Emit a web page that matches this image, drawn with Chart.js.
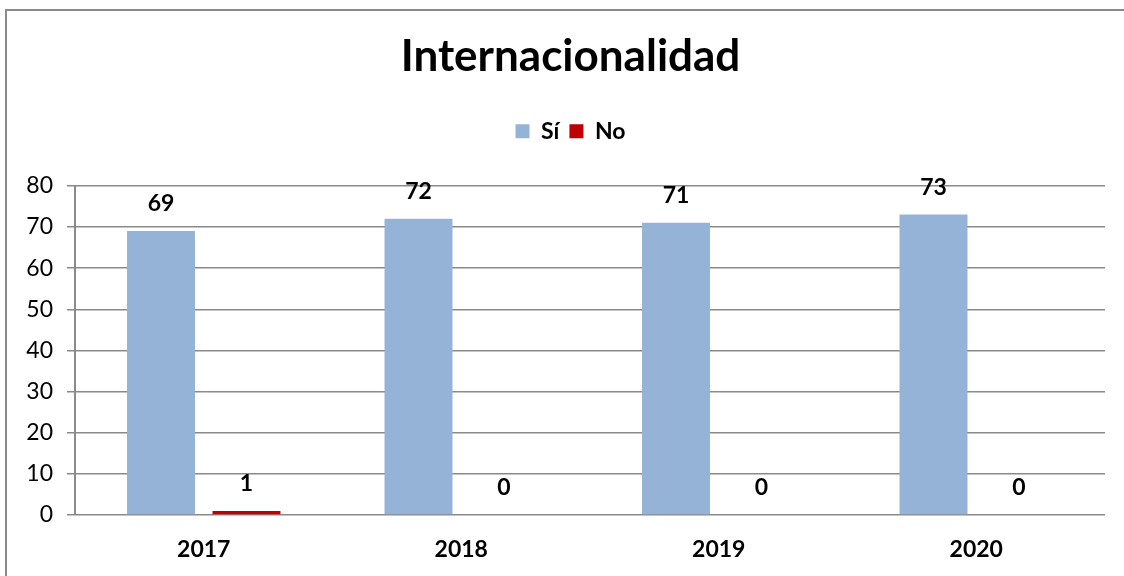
<!DOCTYPE html>
<html lang="es">
    <head>
        <meta charset="utf-8" />
        <script src="https://cdn.jsdelivr.net/npm/chart.js@4.4.1/dist/chart.umd.min.js"></script>
        <title>Internacionalidad</title>
        <style>
            body { margin: 0; overflow: hidden; background: #fff; }
            #marco { position: absolute; left: 5px; top: 9px; width: 1200px; height: 700px; border: 2px solid #8a8a8a; pointer-events: none; }
        </style>
    </head>
    <body>
        <canvas id="miGrafico" width="1124" height="576"></canvas>
        <div id="marco"></div>
        <script>
            // datos
            const anios = ["2017", "2018", "2019", "2020"];
            const si = [69, 72, 71, 73];
            const no = [1, 0, 0, 0];
            const ejeY = [0, 10, 20, 30, 40, 50, 60, 70, 80];

            Chart.defaults.font.family = "Lato, 'Liberation Sans', sans-serif";
            Chart.defaults.color = "#000";

            // etiquetas de valor sobre cada barra
            const etiquetas = {
                id: "etiquetas",
                afterDatasetsDraw(chart) {
                    const ctx = chart.ctx;
                    ctx.save();
                    ctx.font = "bold 23px Lato, sans-serif";
                    ctx.fillStyle = "#000";
                    ctx.textAlign = "center";
                    ctx.textBaseline = "middle";
                    chart.data.datasets.forEach((ds, i) => {
                        chart.getDatasetMeta(i).data.forEach((barra, j) => {
                            ctx.fillText(String(ds.data[j]), barra.x, barra.y - 27);
                        });
                    });
                    ctx.restore();
                }
            };

            // espacio extra bajo la leyenda y título/leyenda algo a la derecha
            const espacio = {
                id: "espacio",
                beforeInit(chart) {
                    const fit = chart.legend.fit;
                    chart.legend.fit = function () {
                        fit.bind(chart.legend)();
                        this.height += 33;
                    };
                },
                afterLayout(chart) {
                    [chart.titleBlock, chart.legend].forEach((b) => {
                        b.left += 18;
                        b.right += 18;
                    });
                }
            };

            new Chart(document.getElementById("miGrafico").getContext("2d"), {
                type: "bar",
                data: {
                    labels: anios,
                    datasets: [
                        { label: "Sí", data: si, backgroundColor: "#95B3D7", categoryPercentage: 0.664, barPercentage: 0.795 },
                        { label: "No", data: no, backgroundColor: "#C00000", categoryPercentage: 0.664, barPercentage: 0.795 }
                    ]
                },
                options: {
                    responsive: false,
                    animation: false,
                    layout: { padding: { left: 0, right: 19, top: 0, bottom: 0 } },
                    plugins: {
                        title: {
                            display: true,
                            text: "Internacionalidad",
                            font: { size: 44, weight: "bold" },
                            padding: { top: 30, bottom: 27 }
                        },
                        legend: {
                            labels: { font: { size: 23, weight: "bold" }, boxWidth: 14, boxHeight: 14, padding: 10 }
                        },
                        tooltip: { enabled: false }
                    },
                    scales: {
                        x: {
                            grid: { display: false, drawTicks: false },
                            border: { display: false },
                            ticks: { font: { size: 23, weight: "bold" }, padding: 21 },
                            afterFit: (eje) => { eje.height = 61; }
                        },
                        y: {
                            min: ejeY[0],
                            max: ejeY[ejeY.length - 1],
                            afterBuildTicks: (eje) => { eje.ticks = ejeY.map((v) => ({ value: v })); },
                            grid: { color: "#8a8a8a", lineWidth: 1.5, tickLength: 8 },
                            border: { display: true, color: "#8a8a8a", width: 2 },
                            ticks: { font: { size: 23 }, padding: 14 },
                            afterFit: (eje) => { eje.width = 75; }
                        }
                    }
                },
                plugins: [etiquetas, espacio]
            });
        </script>
    </body>
</html>
